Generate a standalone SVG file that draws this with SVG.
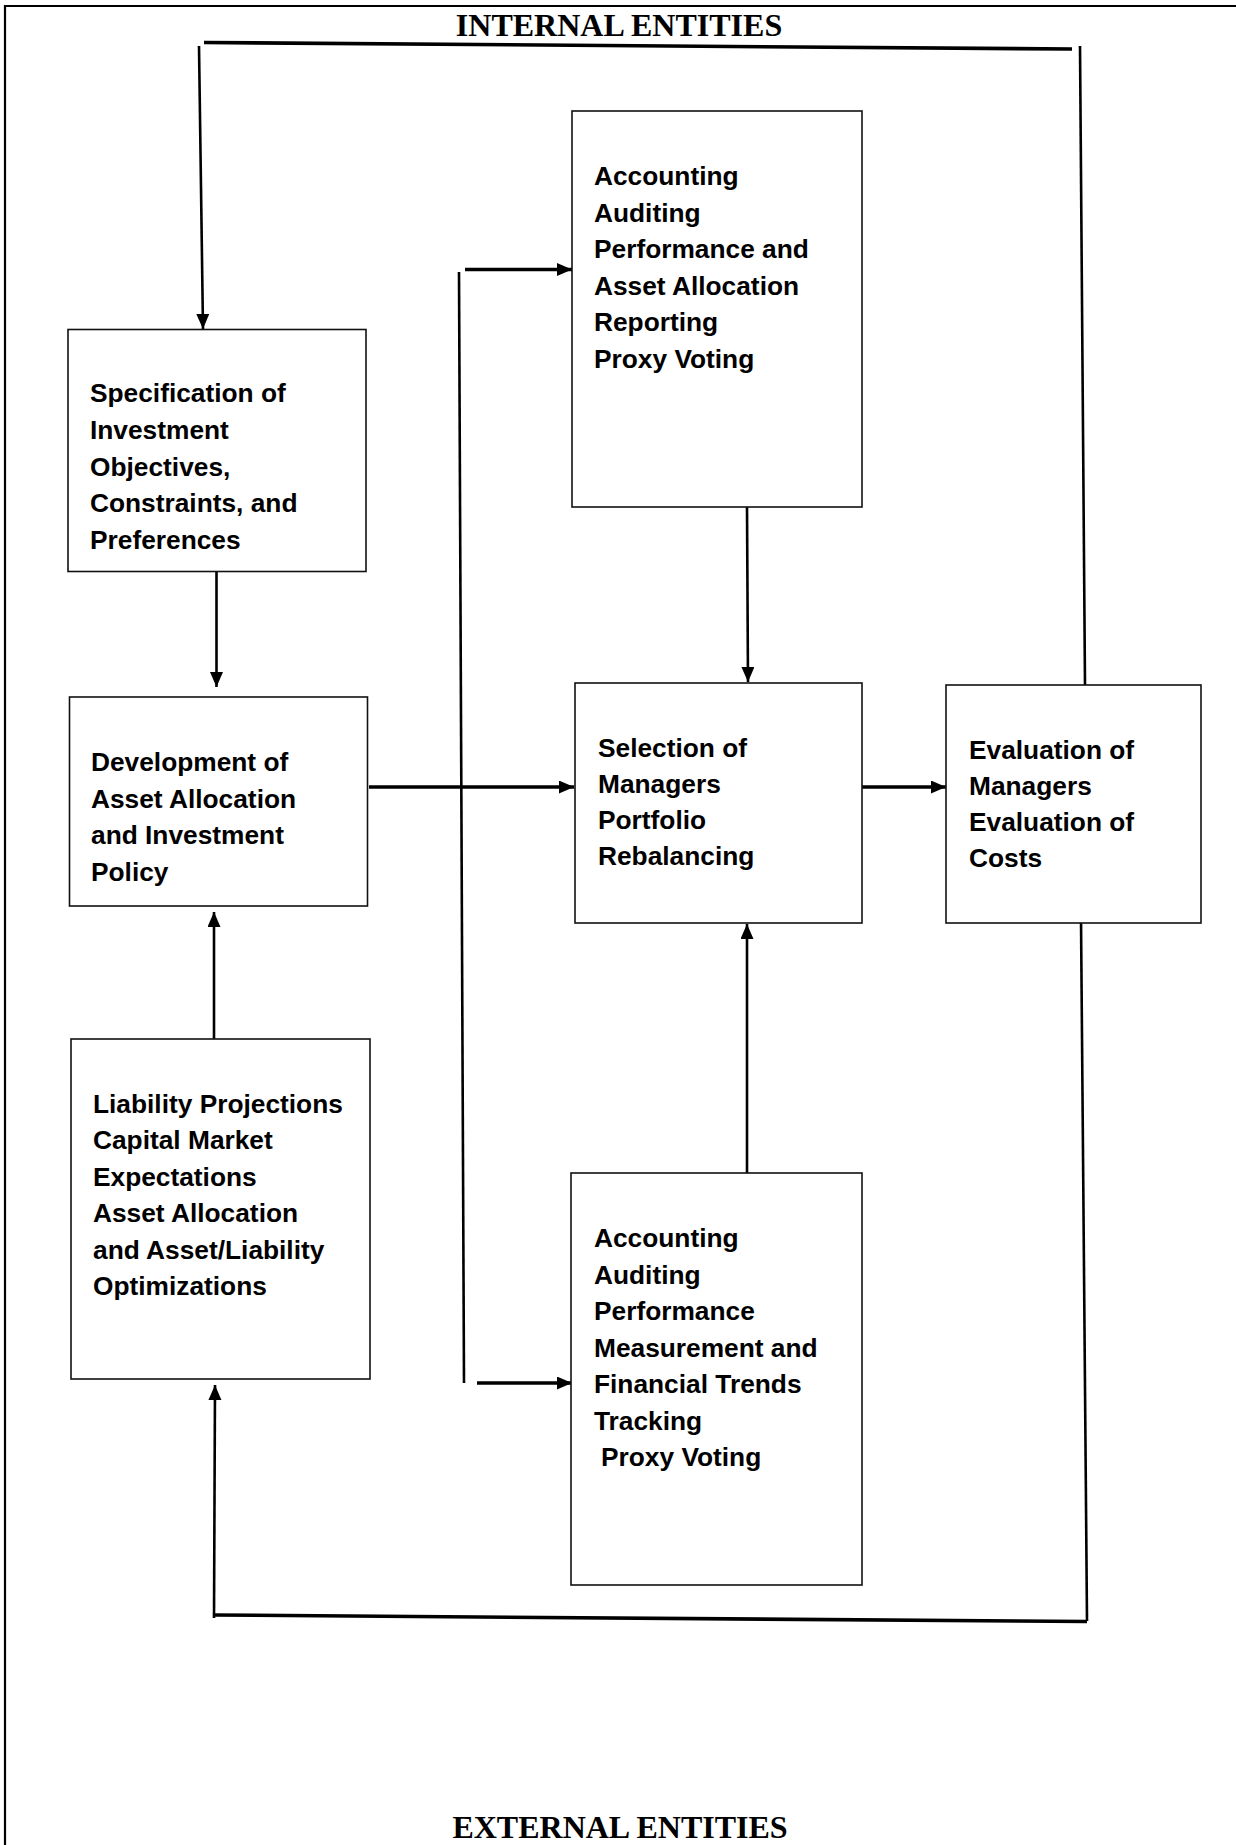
<svg xmlns="http://www.w3.org/2000/svg" width="1236" height="1845" viewBox="0 0 1236 1845">
<defs>
<marker id="ah" markerUnits="userSpaceOnUse" markerWidth="16" markerHeight="14" refX="15" refY="6.5" orient="auto">
<path d="M0,0 L15,6.5 L0,13 z" fill="#000"/>
</marker>
<style>
.box{fill:#fff;stroke:#111;stroke-width:1.6}
.t{font-family:"Liberation Sans",Arial,sans-serif;font-weight:bold;font-size:26.3px;fill:#000}
.title{font-family:"Liberation Serif","Times New Roman",serif;font-weight:bold;font-size:32px;fill:#000;text-anchor:middle}
.c{stroke:#000;fill:none;stroke-width:2.6}
.ct{stroke:#000;fill:none;stroke-width:3.6}
</style>
</defs>
<rect width="1236" height="1845" fill="#fff"/>
<g id="frame">
<line x1="5" y1="6" x2="1236" y2="6" stroke="#000" stroke-width="2.2"/>
<line x1="5" y1="5" x2="5" y2="1845" stroke="#000" stroke-width="2.2"/>
</g>
<text id="internal" class="title" x="619" y="36">INTERNAL ENTITIES</text>
<text id="external" class="title" x="620" y="1838">EXTERNAL ENTITIES</text>
<g id="connectors">
<line class="ct" x1="204" y1="42.5" x2="1072" y2="49"/>
<line class="c" x1="1085" y1="685" x2="1080" y2="46"/>
<line class="c" x1="199" y1="46" x2="203" y2="329" marker-end="url(#ah)"/>
<line class="c" x1="216.5" y1="562" x2="216.5" y2="687" marker-end="url(#ah)"/>
<line class="c" x1="214" y1="1039" x2="214" y2="912" marker-end="url(#ah)"/>
<line class="ct" x1="369" y1="787" x2="574" y2="787" marker-end="url(#ah)"/>
<line class="c" x1="459" y1="272" x2="464" y2="1383"/>
<line class="ct" x1="465" y1="269.5" x2="572" y2="269.5" marker-end="url(#ah)"/>
<line class="ct" x1="477" y1="1383" x2="572" y2="1383" marker-end="url(#ah)"/>
<line class="c" x1="747" y1="507" x2="748" y2="682" marker-end="url(#ah)"/>
<line class="c" x1="747" y1="1176" x2="747" y2="924" marker-end="url(#ah)"/>
<line class="ct" x1="861" y1="787" x2="946" y2="787" marker-end="url(#ah)"/>
<line class="c" x1="1081" y1="919" x2="1087" y2="1621"/>
<line class="ct" x1="1087" y1="1621.5" x2="213" y2="1615"/>
<line class="c" x1="214" y1="1618" x2="215" y2="1385" marker-end="url(#ah)"/>
</g>
<g id="spec">
<rect class="box" x="68" y="329.5" width="298" height="242"/>
<text class="t" x="90"><tspan x="90" y="402">Specification of</tspan><tspan x="90" y="439">Investment</tspan><tspan x="90" y="475.5">Objectives,</tspan><tspan x="90" y="512">Constraints, and</tspan><tspan x="90" y="548.5">Preferences</tspan></text>
</g>
<g id="development">
<rect class="box" x="69.5" y="697" width="298" height="209"/>
<text class="t"><tspan x="91" y="771">Development of</tspan><tspan x="91" y="807.5">Asset Allocation</tspan><tspan x="91" y="844">and Investment</tspan><tspan x="91" y="880.5">Policy</tspan></text>
</g>
<g id="liability">
<rect class="box" x="71" y="1039" width="299" height="340"/>
<text class="t"><tspan x="93" y="1112.5">Liability Projections</tspan><tspan x="93" y="1149">Capital Market</tspan><tspan x="93" y="1185.5">Expectations</tspan><tspan x="93" y="1222">Asset Allocation</tspan><tspan x="93" y="1258.5">and Asset/Liability</tspan><tspan x="93" y="1295">Optimizations</tspan></text>
</g>
<g id="accounting-top">
<rect class="box" x="572" y="111" width="290" height="396"/>
<text class="t"><tspan x="594" y="185">Accounting</tspan><tspan x="594" y="221.5">Auditing</tspan><tspan x="594" y="258">Performance and</tspan><tspan x="594" y="294.5">Asset Allocation</tspan><tspan x="594" y="331">Reporting</tspan><tspan x="594" y="367.5">Proxy Voting</tspan></text>
</g>
<g id="selection">
<rect class="box" x="575" y="683" width="287" height="240"/>
<text class="t"><tspan x="598" y="757">Selection of</tspan><tspan x="598" y="793">Managers</tspan><tspan x="598" y="829">Portfolio</tspan><tspan x="598" y="865">Rebalancing</tspan></text>
</g>
<g id="evaluation">
<rect class="box" x="946" y="685" width="255" height="238"/>
<text class="t"><tspan x="969" y="758.5">Evaluation of</tspan><tspan x="969" y="795">Managers</tspan><tspan x="969" y="831">Evaluation of</tspan><tspan x="969" y="867">Costs</tspan></text>
</g>
<g id="accounting-bottom">
<rect class="box" x="571" y="1173" width="291" height="412"/>
<text class="t"><tspan x="594" y="1247">Accounting</tspan><tspan x="594" y="1283.5">Auditing</tspan><tspan x="594" y="1320">Performance</tspan><tspan x="594" y="1356.5">Measurement and</tspan><tspan x="594" y="1393">Financial Trends</tspan><tspan x="594" y="1429.5">Tracking</tspan><tspan x="601" y="1466">Proxy Voting</tspan></text>
</g>
</svg>
